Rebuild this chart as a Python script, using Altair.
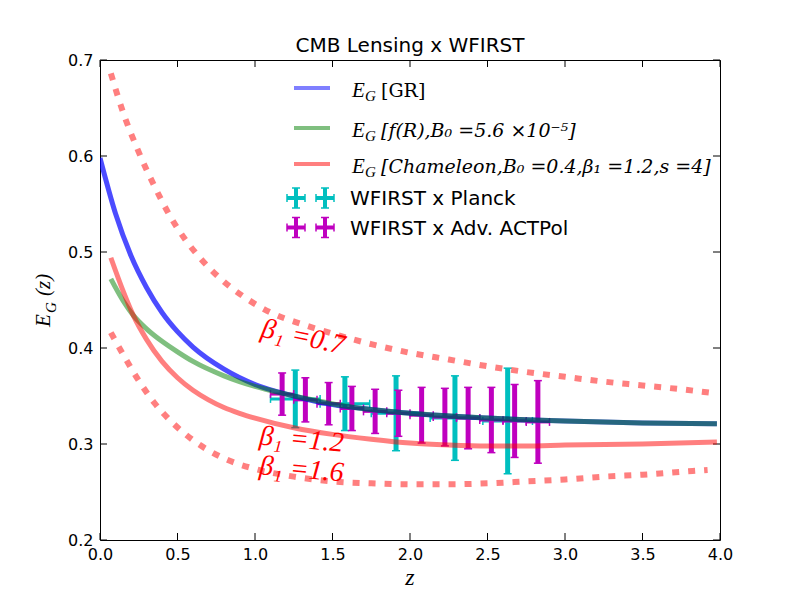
import altair as alt
import pandas as pd

# ---------------- data ----------------
gr_z = [0.0, 0.1, 0.2, 0.3, 0.4, 0.5, 0.6, 0.8, 1.0, 1.25, 1.5, 1.75, 2.0, 2.5, 3.0, 3.5, 3.98]
gr_v = [0.598, 0.540, 0.496, 0.463, 0.437, 0.417, 0.401, 0.378, 0.362, 0.350, 0.341, 0.336, 0.332, 0.327, 0.324, 0.322, 0.321]

fr_z = [0.07, 0.15, 0.215, 0.3, 0.4, 0.5, 0.6, 0.8, 1.0, 1.2, 1.4, 1.6, 2.0, 2.5, 3.0, 3.5, 3.98]
fr_v = [0.472, 0.449, 0.434, 0.420, 0.407, 0.396, 0.386, 0.371, 0.360, 0.352, 0.345, 0.339, 0.332, 0.327, 0.324, 0.322, 0.321]

ch_z = [0.07, 0.15, 0.215, 0.3, 0.4, 0.5, 0.6, 0.7, 0.8, 0.9, 1.0, 1.25, 1.5, 1.75, 2.0, 2.25, 2.5, 2.75, 3.0, 3.5, 3.98]
ch_v = [0.494, 0.459, 0.434, 0.409, 0.386, 0.369, 0.356, 0.346, 0.338, 0.332, 0.327, 0.317, 0.310, 0.305, 0.301, 0.299, 0.298, 0.298, 0.299, 0.300, 0.302]

b07_z = [0.07, 0.15, 0.25, 0.35, 0.45, 0.55, 0.65, 0.8, 0.95, 1.1, 1.3, 1.5, 1.75, 2.0, 2.25, 2.5, 2.75, 3.0, 3.25, 3.5, 3.75, 3.96]
b07_v = [0.686, 0.645, 0.604, 0.569, 0.538, 0.513, 0.493, 0.469, 0.451, 0.437, 0.425, 0.415, 0.404, 0.395, 0.388, 0.381, 0.375, 0.370, 0.365, 0.361, 0.357, 0.353]

b16_z = [0.07, 0.15, 0.25, 0.35, 0.45, 0.6, 0.8, 1.0, 1.25, 1.5, 1.75, 2.0, 2.25, 2.5, 2.75, 3.0, 3.25, 3.5, 3.75, 3.92]
b16_v = [0.416, 0.393, 0.366, 0.343, 0.325, 0.304, 0.285, 0.274, 0.266, 0.261, 0.259, 0.258, 0.258, 0.259, 0.261, 0.263, 0.266, 0.268, 0.271, 0.273]

planck_z = [1.26, 1.58, 1.91, 2.29, 2.63]
planck_v = [0.347, 0.342, 0.332, 0.327, 0.324]
planck_err = [0.030, 0.028, 0.039, 0.044, 0.055]
planck_zerr = [0.16, 0.16, 0.16, 0.16, 0.16]

act_z = [1.175, 1.325, 1.475, 1.625, 1.775, 1.925, 2.075, 2.225, 2.375, 2.525, 2.675, 2.825]
act_v = [0.352, 0.346, 0.342, 0.337, 0.334, 0.332, 0.330, 0.328, 0.327, 0.325, 0.324, 0.323]
act_err = [0.022, 0.023, 0.022, 0.023, 0.023, 0.024, 0.029, 0.030, 0.032, 0.034, 0.038, 0.043]
act_zerr = [0.075] * 12

ann_text = ["β₁ =0.7", "β₁ =1.2", "β₁ =1.6"]
ann_z = [1.31, 1.30, 1.30]
ann_v = [0.411, 0.304, 0.273]
ann_angle = [12, 5, 5]

x_ticks = [0.0, 0.5, 1.0, 1.5, 2.0, 2.5, 3.0, 3.5, 4.0]
y_ticks = [0.2, 0.3, 0.4, 0.5, 0.6, 0.7]

TITLE = "CMB Lensing x WFIRST"
X_TITLE = "z"
LEG_PLANCK = "WFIRST x Planck"
LEG_ACT = "WFIRST x Adv. ACTPol"

# ---------------- styling ----------------
W, H = 620, 480
CYAN = "#00bfbf"
MAG = "#bf00bf"
BLUE = "#0000ff"
GREEN = "#008000"
RED = "#ff0000"
SERIF = "Liberation Serif"
DSERIF = "DejaVu Serif"
SANS = "DejaVu Sans"

xs = alt.Scale(domain=[0, 4], nice=False, zero=False)
ys = alt.Scale(domain=[0.2, 0.7], nice=False, zero=False)

X_AXIS = alt.Axis(
    values=x_ticks, format=".1f", labelFont=SANS, labelFontSize=16, labelColor="black",
    labelPadding=6, ticks=False, domain=False, grid=False, labelFlush=False, labelOverlap=False,
    title=None)
Y_AXIS = alt.Axis(
    values=y_ticks, format=".1f", labelFont=SANS, labelFontSize=16, labelColor="black",
    labelPadding=7, ticks=False, domain=False, grid=False, labelFlush=False, labelOverlap=False,
    title=None)


def X(f):
    return alt.X(f, type="quantitative", scale=xs, axis=X_AXIS)


def Y(f):
    return alt.Y(f, type="quantitative", scale=ys, axis=Y_AXIS)


one = pd.DataFrame({"a": [0]})

layers = []

# inward ticks on all four sides
xt = pd.DataFrame({"z": x_ticks})
yt = pd.DataFrame({"v": y_ticks})
TL = 7
layers.append(alt.Chart(xt).mark_rule(color="black", strokeWidth=1).encode(x=X("z:Q"), y=alt.value(H), y2=alt.value(H - TL)))
layers.append(alt.Chart(xt).mark_rule(color="black", strokeWidth=1).encode(x=X("z:Q"), y=alt.value(0), y2=alt.value(TL)))
layers.append(alt.Chart(yt).mark_rule(color="black", strokeWidth=1).encode(y=Y("v:Q"), x=alt.value(0), x2=alt.value(TL)))
layers.append(alt.Chart(yt).mark_rule(color="black", strokeWidth=1).encode(y=Y("v:Q"), x=alt.value(W), x2=alt.value(W - TL)))


def errorbars(z, v, err, zerr, color):
    df = pd.DataFrame({"z": z, "v": v, "err": err, "zerr": zerr})
    base = alt.Chart(df).transform_calculate(
        lo="datum.v - datum.err", hi="datum.v + datum.err",
        zlo="datum.z - datum.zerr", zhi="datum.z + datum.zerr")
    out = [
        base.mark_rule(color=color, strokeWidth=3).encode(x=X("zlo:Q"), x2="zhi:Q", y=Y("v:Q")),
        base.mark_rule(color=color, strokeWidth=1.5, yOffset=-4, y2Offset=4).encode(x=X("zlo:Q"), y=Y("v:Q"), y2="v:Q"),
        base.mark_rule(color=color, strokeWidth=1.5, yOffset=-4, y2Offset=4).encode(x=X("zhi:Q"), y=Y("v:Q"), y2="v:Q"),
        base.mark_rule(color=color, strokeWidth=5).encode(x=X("z:Q"), y=Y("lo:Q"), y2="hi:Q"),
        base.mark_rule(color=color, strokeWidth=1.5, xOffset=-4, x2Offset=4).encode(x=X("z:Q"), x2="z:Q", y=Y("lo:Q")),
        base.mark_rule(color=color, strokeWidth=1.5, xOffset=-4, x2Offset=4).encode(x=X("z:Q"), x2="z:Q", y=Y("hi:Q")),
    ]
    return out


layers += errorbars(planck_z, planck_v, planck_err, planck_zerr, CYAN)
layers += errorbars(act_z, act_v, act_err, act_zerr, MAG)


def curve(z, v, color, opacity, dash=None, width=5):
    df = pd.DataFrame({"z": z, "v": v})
    kw = dict(color=color, opacity=opacity, strokeWidth=width, interpolate="monotone", clip=True)
    if dash:
        kw["strokeDash"] = dash
        kw["strokeCap"] = "butt"
    return alt.Chart(df).mark_line(**kw).encode(x=X("z:Q"), y=Y("v:Q"))


layers.append(curve(gr_z, gr_v, BLUE, 0.7))
layers.append(curve(fr_z, fr_v, GREEN, 0.5))
layers.append(curve(ch_z, ch_v, RED, 0.5))
layers.append(curve(b07_z, b07_v, RED, 0.5, dash=[7, 9], width=6))
layers.append(curve(b16_z, b16_v, RED, 0.5, dash=[7, 9], width=6))

# beta annotations
ann_df = pd.DataFrame({"z": ann_z, "v": ann_v, "t": ann_text, "ang": ann_angle})
layers.append(alt.Chart(ann_df).mark_text(font=SERIF, fontStyle="italic", fontSize=28, color=RED,
                                          align="center", baseline="middle").encode(
    x=X("z:Q"), y=Y("v:Q"), text="t:N", angle=alt.Angle("ang:Q", scale=None)))


def txt(s, x, y, size, font=SERIF, style="normal", color="black", angle=0, align="left", baseline="alphabetic"):
    return alt.Chart(one).mark_text(text=s, fontSize=size, font=font, fontStyle=style, color=color,
                                    angle=angle, align=align, baseline=baseline).encode(
        x=alt.value(x), y=alt.value(y))


def hline(x1, x2, y, color, width, opacity=1.0):
    return alt.Chart(one).mark_rule(color=color, strokeWidth=width, opacity=opacity).encode(
        x=alt.value(x1), x2=alt.value(x2), y=alt.value(y))


def vline(x, y1, y2, color, width, opacity=1.0):
    return alt.Chart(one).mark_rule(color=color, strokeWidth=width, opacity=opacity).encode(
        x=alt.value(x), y=alt.value(y1), y2=alt.value(y2))


# legend: lines
leg_lines = [(28, BLUE, "[GR]", "normal"),
             (68, GREEN, "[f(R),B₀ =5.6 ×10⁻⁵]", "italic"),
             (104, RED, "[Chameleon,B₀ =0.4,β₁ =1.2,s =4]", "italic")]
for ly, col, lab, sty in leg_lines:
    layers.append(hline(194, 230, ly, col, 4, 0.5))
    layers.append(txt("E", 252, ly + 9, 21, style="italic"))
    layers.append(txt("G", 265, ly + 13, 15, style="italic"))
    layers.append(txt(lab, 281, ly + 9, 19, font=DSERIF, style=sty))


def cross(cx, cy, color):
    return [
        hline(cx - 9, cx + 9, cy, color, 4),
        vline(cx, cy - 10, cy + 10, color, 4),
        vline(cx - 9, cy - 4, cy + 4, color, 1.5),
        vline(cx + 9, cy - 4, cy + 4, color, 1.5),
        hline(cx - 4, cx + 4, cy - 10, color, 1.5),
        hline(cx - 4, cx + 4, cy + 10, color, 1.5),
    ]


for cy, col, lab in [(138, CYAN, LEG_PLANCK), (167.5, MAG, LEG_ACT)]:
    layers += cross(196, cy, col)
    layers += cross(225, cy, col)
    layers.append(txt(lab, 250, cy + 7, 20, font=SANS))

# titles
layers.append(txt(TITLE, W / 2, -8, 20, font=SANS, align="center"))
layers.append(txt(X_TITLE, W / 2, 525, 24, style="italic", align="center"))
# y-axis title  E_G (z)
layers.append(txt("E", -50, 267, 21, style="italic", angle=270))
layers.append(txt("G", -44, 253, 15, style="italic", angle=270))
layers.append(txt("(z)", -50, 236, 21, style="italic", angle=270))

chart = alt.layer(*layers).properties(
    width=W, height=H,
    padding={"left": 92, "top": 52, "right": 72, "bottom": 52},
    autosize=alt.AutoSizeParams(type="none"),
    background="white",
).configure_view(stroke="black", strokeWidth=1)

chart.save("out.html", embed_options={"renderer": "svg", "actions": False})
